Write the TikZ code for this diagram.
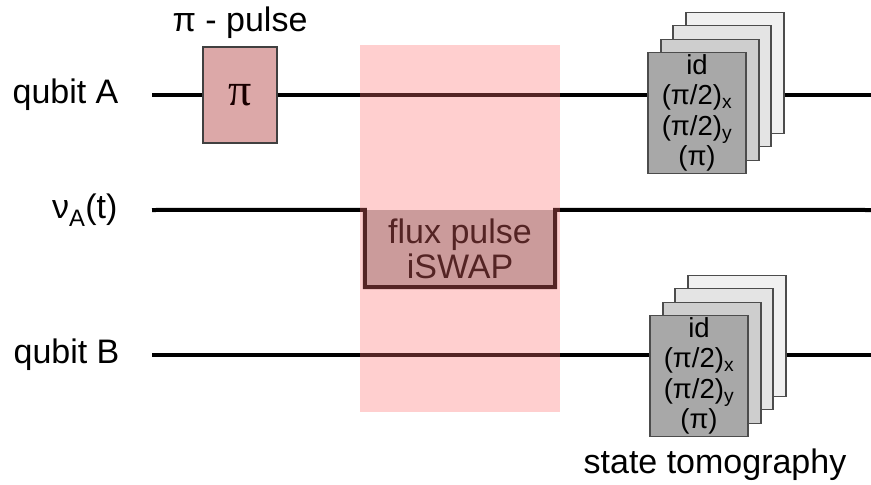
\documentclass[tikz,border=0pt]{standalone}
\usepackage{fontspec}
\setmainfont{Liberation Sans}
\newfontfamily\pifont{Liberation Serif}
\usetikzlibrary{positioning,calc}

\definecolor{pulsered}{RGB}{220,168,168}
\definecolor{swapred}{RGB}{255,110,110}
\definecolor{fluxgray}{RGB}{178,178,178}
\definecolor{tomoA}{RGB}{168,168,168}
\definecolor{tomoB}{RGB}{206,206,206}
\definecolor{tomoC}{RGB}{228,228,228}
\definecolor{tomoD}{RGB}{240,240,240}

\tikzset{
  wire/.style={line width=4pt},
  lab/.style={font=\fontsize{34}{38}\selectfont},
  tomobox/.style={draw=black!70, line width=1.2pt, minimum width=98pt,
    minimum height=121pt, inner sep=0pt, align=center,
    font=\fontsize{27.5}{30.5}\selectfont}
}

\begin{document}
\begin{tikzpicture}[x=1pt,y=-1pt]
  \useasboundingbox (0,0) rectangle (871,485);
  % wire ends
  \coordinate (qa-in) at (152,95);
  \coordinate (qa-out) at (871,95);
  \coordinate (va-in) at (152,210);
  \coordinate (va-out) at (871,210);
  \coordinate (qb-in) at (152,355);
  \coordinate (qb-out) at (871,355);
  \node[lab, left=30pt of qa-in] (labA) {qubit A};
  \node[lab, left=31pt of va-in] (labV) {ν\textsubscript{A}(t)};
  \node[lab, left=29pt of qb-in] (labB) {qubit B};
  % pi pulse on qubit A
  \node[draw=black!75, line width=1.2pt, fill=pulsered, minimum width=74pt,
    minimum height=96pt] (pi) at (240,95)
    {\pifont\fontsize{46}{46}\selectfont\color{black!90!red}π};
  \node[lab, above=4pt of pi] (pilabel) {π - pulse};
  % flux pulse
  \node[fill=fluxgray, minimum width=190pt, minimum height=77pt, align=center,
    font=\fontsize{34}{35}\selectfont] (flux) at (460,248.5) {flux pulse\\iSWAP};
  % tomography stacks
  \coordinate (tA) at (697,113);
  \coordinate (tB) at (699,376);
  \foreach \s in {A,B}
    \foreach \i/\dx/\dy/\c in {4/38/-40/tomoD, 3/25/-27/tomoC, 2/13/-13/tomoB}
      \node[tomobox, fill=\c] (tomo\s\i) at ($(t\s)+(\dx,\dy)$) {};
  \node[tomobox, fill=tomoA] (tomoA1) at (tA)
    {id\\(π/2)\textsubscript{x}\\(π/2)\textsubscript{y}\\(π)};
  \node[tomobox, fill=tomoA] (tomoB1) at (tB)
    {id\\(π/2)\textsubscript{x}\\(π/2)\textsubscript{y}\\(π)};
  \node[lab] (tomolabel) at (715,465) {state tomography};
  % wires
  \draw[wire] (qa-in) -- (pi.west);
  \draw[wire] (pi.east) -- (tomoA1.west |- qa-in);
  \draw[wire] (tomoA4.east |- qa-in) -- (qa-out);
  \draw[wire] (va-in) -- (flux.north west) -- (flux.south west)
    -- (flux.south east) -- (flux.north east) -- (va-out);
  \draw[wire] (qb-in) -- (tomoB1.west |- qb-in);
  \draw[wire] (tomoB4.east |- qb-in) -- (qb-out);
  % iSWAP interaction window
  \node[fill=swapred, opacity=0.33, minimum width=200pt, minimum height=367pt,
    inner sep=0pt] (window) at (460,228.5) {};
\end{tikzpicture}
\end{document}
